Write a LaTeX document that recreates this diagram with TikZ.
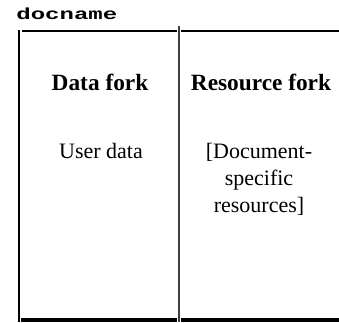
\documentclass[tikz,border=0pt]{standalone}
\usepackage{fontspec}
\setmainfont{Liberation Serif}
\setmonofont{Liberation Mono}
\begin{document}
\begin{tikzpicture}[x=0.75pt, y=-0.75pt,
    every node/.style={inner sep=0pt, align=center},
    head/.style={font=\fontsize{17.5}{20}\selectfont\bfseries},
    body/.style={font=\fontsize{16.5}{20.3}\selectfont}]
    \useasboundingbox (0,0) rectangle (339,322);
    % file name
    \node[font=\fontsize{12}{14}\selectfont\ttfamily\bfseries, xscale=1.5, anchor=west] (name) at (16,14) {docname};
    % frame of the two forks
    \draw[line width=1.6pt] (19,30) -- (19,322);
    \draw[line width=1.5pt, black!75] (179,26) -- (179,322);
    \draw[line width=1.1pt] (22,31) -- (177,31);
    \draw[line width=1.1pt] (181,31) -- (339,31);
    \draw[line width=3pt] (21,320) -- (177,320);
    \draw[line width=3pt] (181,320) -- (339,320);
    % fork titles
    \node[head] (data) at (100,82) {Data fork};
    \node[head] (res) at (261,82) {Resource fork};
    % fork contents
    \node[body, anchor=north] (user) at (101,143) {User data};
    \node[body, anchor=north] (docres) at (259,143) {[Document-\\specific\\resources]};
\end{tikzpicture}
\end{document}
